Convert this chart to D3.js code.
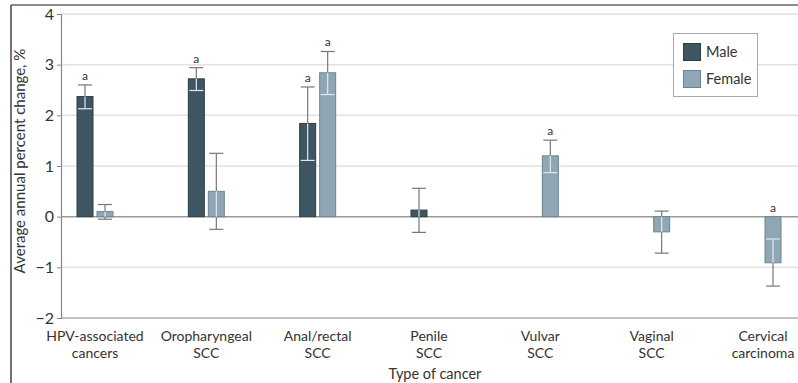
<!DOCTYPE html>
<html><head><meta charset="utf-8">
<script src="https://cdn.jsdelivr.net/npm/d3@7"></script>
<style>body{margin:0;background:#fff}svg{display:block}text{font-family:Lato,"Open Sans",sans-serif;fill:#333}</style>
</head><body><svg id="c" width="798" height="383"></svg>
<script>
const categories = ["HPV-associated\ncancers","Oropharyngeal\nSCC","Anal/rectal\nSCC","Penile\nSCC","Vulvar\nSCC","Vaginal\nSCC","Cervical\ncarcinoma"];
const seriesNames = ["Male","Female"];
const maleValues = [2.37, 2.72, 1.84, 0.13, null, null, null];
const maleLower  = [2.13, 2.49, 1.11, -0.31, null, null, null];
const maleUpper  = [2.60, 2.94, 2.56, 0.56, null, null, null];
const maleSig    = [true, true, true, false, false, false, false];
const femaleValues = [0.10, 0.50, 2.84, null, 1.20, -0.30, -0.91];
const femaleLower  = [-0.05, -0.25, 2.41, null, 0.87, -0.72, -1.37];
const femaleUpper  = [0.24, 1.25, 3.26, null, 1.51, 0.11, -0.44];
const femaleSig    = [false, false, true, false, true, false, true];
const yTicks = [4, 3, 2, 1, 0, -1, -2];
const colors = {Male:"#3e5663", Female:"#8fa7b4"};
const strokes = {Male:"#2c3e48", Female:"#6d8491"};

const svg = d3.select("#c");
// frame
svg.append("line").attr("x1",11).attr("x2",798).attr("y1",5).attr("y2",5).attr("stroke","#666").attr("stroke-width",1.5);
svg.append("line").attr("x1",11).attr("x2",11).attr("y1",5).attr("y2",383).attr("stroke","#444").attr("stroke-width",1.5);

const y = d3.scaleLinear().domain([-2,4]).range([318,14]);
const x = d3.scalePoint().domain(categories).range([95,763]);
const left = 61, right = 798;

// gridlines
svg.append("g").selectAll("line").data(yTicks.filter(d=>d!==0 && d!==-2)).join("line")
  .attr("x1",left).attr("x2",right).attr("y1",d=>y(d)).attr("y2",d=>y(d))
  .attr("stroke","#e2e2e2").attr("stroke-width",1.5);

// y axis
const ya = svg.append("g").attr("transform",`translate(${left},0)`)
  .call(d3.axisLeft(y).tickValues(yTicks).tickFormat(d3.format("d")).tickSize(4).tickPadding(3));
ya.select(".domain").attr("stroke","#888").attr("stroke-width",1.2);
ya.selectAll(".tick line").attr("stroke","#888");
ya.selectAll("text").style("font-size","16px").attr("fill","#333").style("font-family","Lato,sans-serif");
// bottom axis line
svg.append("line").attr("x1",left).attr("x2",right).attr("y1",y(-2)).attr("y2",y(-2)).attr("stroke","#888").attr("stroke-width",1.2);

const barW = 16, off = 10;
function drawSeries(name, vals, lo, hi, sig, dx){
  const g = svg.append("g");
  categories.forEach((c,i)=>{
    const v = vals[i]; if(v==null) return;
    const cx = x(c)+dx;
    const y0 = y(0), yv = y(v);
    g.append("rect").attr("x",cx-barW/2).attr("y",Math.min(y0,yv)).attr("width",barW).attr("height",Math.abs(yv-y0))
      .attr("fill",colors[name]).attr("stroke",strokes[name]).attr("stroke-width",1);
    const yl = y(lo[i]), yh = y(hi[i]);
    const top = Math.min(y0,yv), bot = Math.max(y0,yv);
    const a = Math.min(yh,yl), b = Math.max(yh,yl);
    const parts = [];
    if(a<top) parts.push([a,Math.min(b,top),"#777"]);
    if(b>bot) parts.push([Math.max(a,bot),b,"#777"]);
    if(Math.max(a,top)<Math.min(b,bot)) parts.push([Math.max(a,top),Math.min(b,bot),"#e4e8ea"]);
    parts.forEach(p=>g.append("line").attr("x1",cx).attr("x2",cx).attr("y1",p[0]).attr("y2",p[1]).attr("stroke",p[2]).attr("stroke-width",1.2));
    [yl,yh].forEach(yy=>{
      const inside = yy>top+0.5 && yy<bot-0.5;
      g.append("line").attr("x1",cx-7).attr("x2",cx+7).attr("y1",yy).attr("y2",yy)
        .attr("stroke",inside?"#e4e8ea":"#777").attr("stroke-width",1.2);
    });
    if(sig[i]){
      const ty = Math.min(a, top) - 5;
      g.append("text").attr("x",cx).attr("y",ty).attr("text-anchor","middle").style("font-size","12px").attr("fill","#444").text("a");
    }
  });
}
svg.append("line").attr("x1",left).attr("x2",right).attr("y1",y(0)).attr("y2",y(0)).attr("stroke","#9a9a9a").attr("stroke-width",1.5);
drawSeries("Male", maleValues, maleLower, maleUpper, maleSig, -off);
drawSeries("Female", femaleValues, femaleLower, femaleUpper, femaleSig, off);

// category labels
categories.forEach(c=>{
  const t = svg.append("text").attr("x",x(c)).attr("y",341).attr("text-anchor","middle").style("font-size","14px");
  c.split("\n").forEach((s,k)=>t.append("tspan").attr("x",x(c)).attr("dy",k?17:0).text(s));
});
svg.append("text").attr("x",435).attr("y",379).attr("text-anchor","middle").style("font-size","14.5px").text("Type of cancer");
svg.append("text").attr("transform",`translate(25,161) rotate(-90)`).attr("text-anchor","middle").style("font-size","15px").text("Average annual percent change, %");

// legend
const lg = svg.append("g");
lg.append("rect").attr("x",673.5).attr("y",33.5).attr("width",84).attr("height",63).attr("fill","#fff").attr("stroke","#aaa");
seriesNames.forEach((n,i)=>{
  lg.append("rect").attr("x",683.5).attr("y",43.5+i*27).attr("width",17).attr("height",17).attr("fill",colors[n]).attr("stroke",strokes[n]);
  lg.append("text").attr("x",706).attr("y",57+i*27).style("font-size","14.5px").text(n);
});
</script></body></html>
